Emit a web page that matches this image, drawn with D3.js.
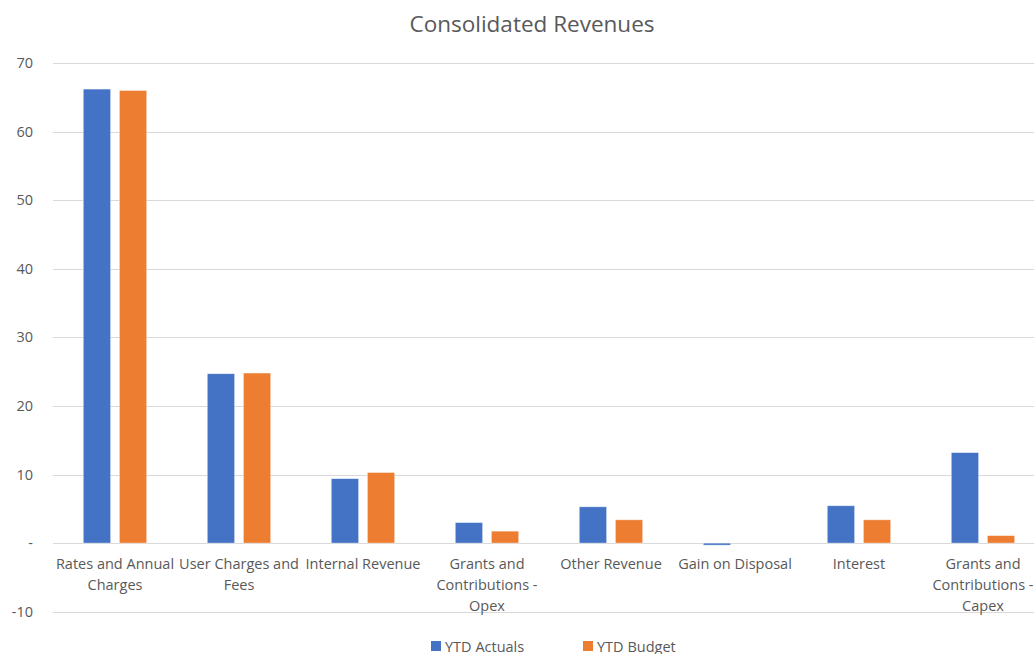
<!DOCTYPE html>
<html>
<head>
<meta charset="utf-8">
<script src="https://cdn.jsdelivr.net/npm/d3@7/dist/d3.min.js"></script>
<style>
  html, body { margin: 0; padding: 0; background: #fff; overflow: hidden; }
  svg { display: block; font-family: "Open Sans", "Noto Sans", sans-serif; }
</style>
</head>
<body>
<svg id="chart" width="1034" height="654"></svg>
<script>
// Category labels, already broken into the lines they are drawn on
const categories = [
  ["Rates and Annual", "Charges"],
  ["User Charges and", "Fees"],
  ["Internal Revenue"],
  ["Grants and", "Contributions -", "Opex"],
  ["Other Revenue"],
  ["Gain on Disposal"],
  ["Interest"],
  ["Grants and", "Contributions -", "Capex"]
];
const ytdActuals = [66.2, 24.7, 9.4, 3.0, 5.3, -0.3, 5.45, 13.2];
const ytdBudget  = [66.0, 24.8, 10.3, 1.75, 3.4, 0, 3.4, 1.1];
const seriesNames = ["YTD Actuals", "YTD Budget"];
const seriesColors = ["#4472C4", "#ED7D31"];
const yTicks = [70, 60, 50, 40, 30, 20, 10, 0, -10];

const svg = d3.select("#chart");
const W = 1034, H = 654;
const plot = { left: 53, right: 1045, top: 63, bottom: 611.7 };

const keys = categories.map((c, i) => i);
const x = d3.scaleBand().domain(keys).range([plot.left, plot.right]).paddingInner(0).paddingOuter(0);
const y = d3.scaleLinear().domain([-10, 70]).range([plot.bottom, plot.top]);

// Bar geometry within each category band
const bw = x.bandwidth();
const barW = bw * 0.221;
const gap = bw * 0.07;
const groupW = barW * 2 + gap;
const inset = (bw - groupW) / 2;

// Title
svg.append("text")
  .attr("x", 532).attr("y", 32)
  .attr("text-anchor", "middle")
  .attr("fill", "#595959")
  .attr("font-size", 22.5)
  .text("Consolidated Revenues");

// Horizontal gridlines
svg.append("g").selectAll("line").data(yTicks).join("line")
  .attr("x1", plot.left).attr("x2", W)
  .attr("y1", d => Math.round(y(d)) + 0.5).attr("y2", d => Math.round(y(d)) + 0.5)
  .attr("stroke", "#d9d9d9").attr("stroke-width", 1);

// Y axis labels (zero shown as a dash, accounting style)
const yAxis = d3.axisLeft(y).tickValues(yTicks).tickSize(0).tickPadding(0)
  .tickFormat(d => d === 0 ? "-" : String(d));
const gy = svg.append("g").attr("transform", "translate(33,0)").call(yAxis);
gy.select(".domain").remove();
gy.selectAll("text").attr("fill", "#595959").attr("font-size", 14.5)
  .attr("font-family", "\"Open Sans\", sans-serif");

// Bars
const series = [ytdActuals, ytdBudget];
series.forEach((vals, s) => {
  svg.append("g").selectAll("rect").data(vals).join("rect")
    .attr("x", (d, i) => x(i) + inset + s * (barW + gap))
    .attr("width", barW)
    .attr("y", d => y(Math.max(0, d)))
    .attr("height", d => Math.abs(y(d) - y(0)))
    .attr("fill", seriesColors[s])
    .attr("stroke", "#ffffff").attr("stroke-opacity", 0.6).attr("stroke-width", 0.75);
});

// Category labels under the zero line
const gx = svg.append("g");
categories.forEach((lines, i) => {
  const t = gx.append("text")
    .attr("x", x(i) + bw / 2)
    .attr("y", 569)
    .attr("text-anchor", "middle")
    .attr("fill", "#595959")
    .attr("font-size", 14.5);
  lines.forEach((ln, j) => {
    t.append("tspan").attr("x", x(i) + bw / 2).attr("dy", j === 0 ? 0 : 21).text(ln);
  });
});

// Legend
const legendX = [431, 583];
const lg = svg.append("g");
seriesNames.forEach((name, s) => {
  lg.append("rect")
    .attr("x", legendX[s]).attr("y", 641)
    .attr("width", 10).attr("height", 10)
    .attr("fill", seriesColors[s]);
  lg.append("text")
    .attr("x", legendX[s] + 14).attr("y", 651.5)
    .attr("fill", "#595959").attr("font-size", 14.5)
    .text(name);
});
</script>
</body>
</html>
